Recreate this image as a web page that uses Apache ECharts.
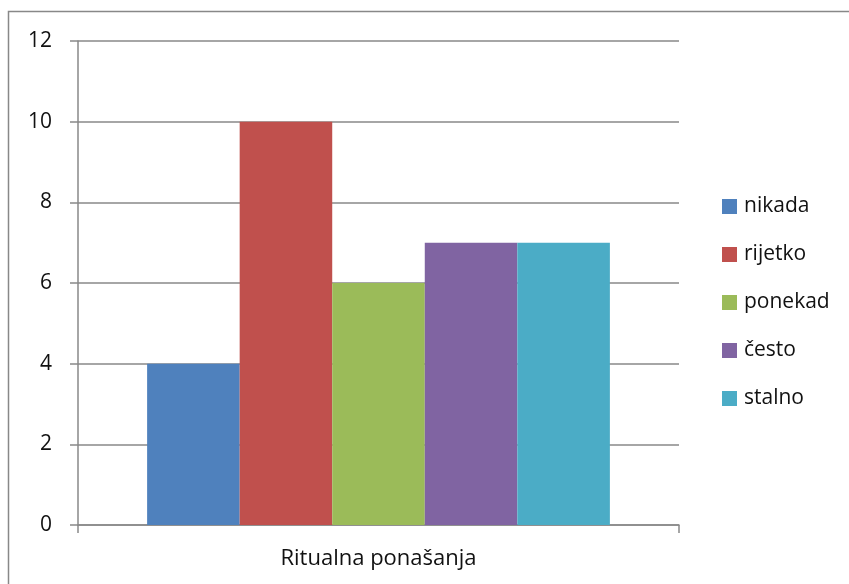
<!DOCTYPE html>
<html>
<head>
<meta charset="utf-8">
<script src="https://cdn.jsdelivr.net/npm/echarts@6/dist/echarts.min.js"></script>
<style>html,body{margin:0;padding:0;background:#fff}#c{width:849px;height:584px}</style>
</head>
<body>
<div id="c"></div>
<script>
var categories = ['Ritualna ponašanja'];
var seriesNames = ['nikada', 'rijetko', 'ponekad', 'često', 'stalno'];
var seriesValues = [[4], [10], [6], [7], [7]];
var colors = ['#4F81BD', '#C0504D', '#9BBB59', '#8064A2', '#4BACC6'];
var yTicks = [0, 2, 4, 6, 8, 10, 12];

var chart = echarts.init(document.getElementById('c'), null, {renderer: 'canvas'});
var font = 'Open Sans';
var axisGray = '#898989';
chart.setOption({
  animation: false,
  textStyle: {fontFamily: font},
  graphic: [{
    type: 'rect', shape: {x: 8.5, y: 11.5, width: 900, height: 700},
    style: {fill: null, stroke: '#888', lineWidth: 1.5}, silent: true
  }],
  grid: {left: 78, right: 170, top: 41, bottom: 59, containLabel: false},
  legend: {
    orient: 'vertical', left: 722, top: 196, padding: 0,
    itemWidth: 15, itemHeight: 15, itemGap: 27,
    icon: 'rect',
    textStyle: {fontFamily: font, fontSize: 21, color: '#111', padding: [0, 0, 0, 2]},
    data: seriesNames
  },
  xAxis: {
    type: 'category', data: categories,
    axisLine: {lineStyle: {color: axisGray, width: 1.5}},
    axisTick: {show: true, length: 8, lineStyle: {color: axisGray, width: 1.5}},
    axisLabel: {fontFamily: font, fontSize: 22, color: '#111', margin: 23}
  },
  yAxis: {
    type: 'value', min: 0, max: 12, interval: 2,
    axisLine: {show: true, lineStyle: {color: axisGray, width: 1.5}},
    axisTick: {show: true, length: 8, lineStyle: {color: axisGray, width: 1.5}},
    axisLabel: {fontFamily: font, fontSize: 21, color: '#111', margin: 26,
      formatter: function (v) { return yTicks.indexOf(v) >= 0 ? String(v) : ''; }},
    splitLine: {lineStyle: {color: axisGray, width: 1.5}}
  },
  series: seriesNames.map(function (n, i) {
    return {
      name: n, type: 'bar', data: seriesValues[i],
      barGap: '0%', barCategoryGap: '23%',
      itemStyle: {color: colors[i]}
    };
  })
});
</script>
</body>
</html>
